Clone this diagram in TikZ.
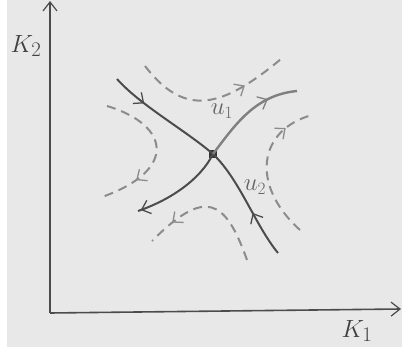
\documentclass[tikz,border=0pt]{standalone}
\usetikzlibrary{arrows.meta,decorations.markings}
\begin{document}
\begin{tikzpicture}[x=1pt,y=-1pt,
  axis/.style={draw=black!70,line width=1.6pt,-{Straight Barb[length=9pt,width=14pt,line width=1.2pt]}},
  solidc/.style={draw=black!70,line width=2pt},
  dashc/.style={draw=black!45,line width=2pt,dash pattern=on 9pt off 6pt},
  barb/.style={postaction={decorate},decoration={markings,
     mark=at position #1 with {\arrow[solid,line width=1.3pt]{Straight Barb[length=8pt,width=14pt]}}}},
  lab/.style={font=\fontsize{28}{28}\selectfont,text=black!75},
  ulab/.style={font=\fontsize{23}{23}\selectfont,text=black!60}]
\fill[white] (0,0) rectangle (402,358);
\fill[black!9] (7,0) rectangle (402,347);
\useasboundingbox (0,0) rectangle (402,358);
% axes
\coordinate (O) at (50,313);
\coordinate (ytop) at (50,1);
\coordinate (xend) at (401,309);
\draw[axis] (O) -- (ytop);
\draw[axis] (O) -- (xend);
\node[lab] (K2) at (26,46) {$K_2$};
\node[lab] (K1) at (357,331) {$K_1$};
% saddle
\node[fill=black!80,minimum size=8pt,inner sep=0pt] (S) at (213,154) {};
\coordinate (a1) at (117,79);
\coordinate (a2) at (278,253);
\coordinate (b1) at (297,91);
\coordinate (b2) at (138,211);
\draw[solidc,barb=0.3] (a1) .. controls (140,105) and (185,130) .. (S.center);
\draw[solidc,barb=0.4] (a2) .. controls (255,225) and (240,180) .. (S.center);
\draw[solidc,draw=black!50,line width=2.4pt,barb=0.72] (S.center) .. controls (235,125) and (255,95) .. (b1);
\draw[solidc,barb=0.97] (S.center) .. controls (200,180) and (170,200) .. (b2);
\node[ulab] (u1) at (222,111) {$u_1$};
\node[ulab] (u2) at (255,187) {$u_2$};
% dashed trajectories
\coordinate (t1) at (145,66);
\coordinate (t2) at (281,59);
\draw[dashc,barb=0.72] (t1) .. controls (185,118) and (222,108) .. (t2);
\coordinate (l1) at (107,106);
\coordinate (l2) at (102,197);
\draw[dashc,barb=0.74] (l1) .. controls (170,125) and (178,170) .. (l2);
\coordinate (r1) at (300,230);
\coordinate (r2) at (312,115);
\draw[dashc,barb=0.8] (r1) .. controls (250,185) and (258,130) .. (r2);
\coordinate (d1) at (247,260);
\coordinate (d2) at (152,241);
\draw[dashc,barb=0.8] (d1) .. controls (225,198) and (205,188) .. (d2);
\end{tikzpicture}
\end{document}
